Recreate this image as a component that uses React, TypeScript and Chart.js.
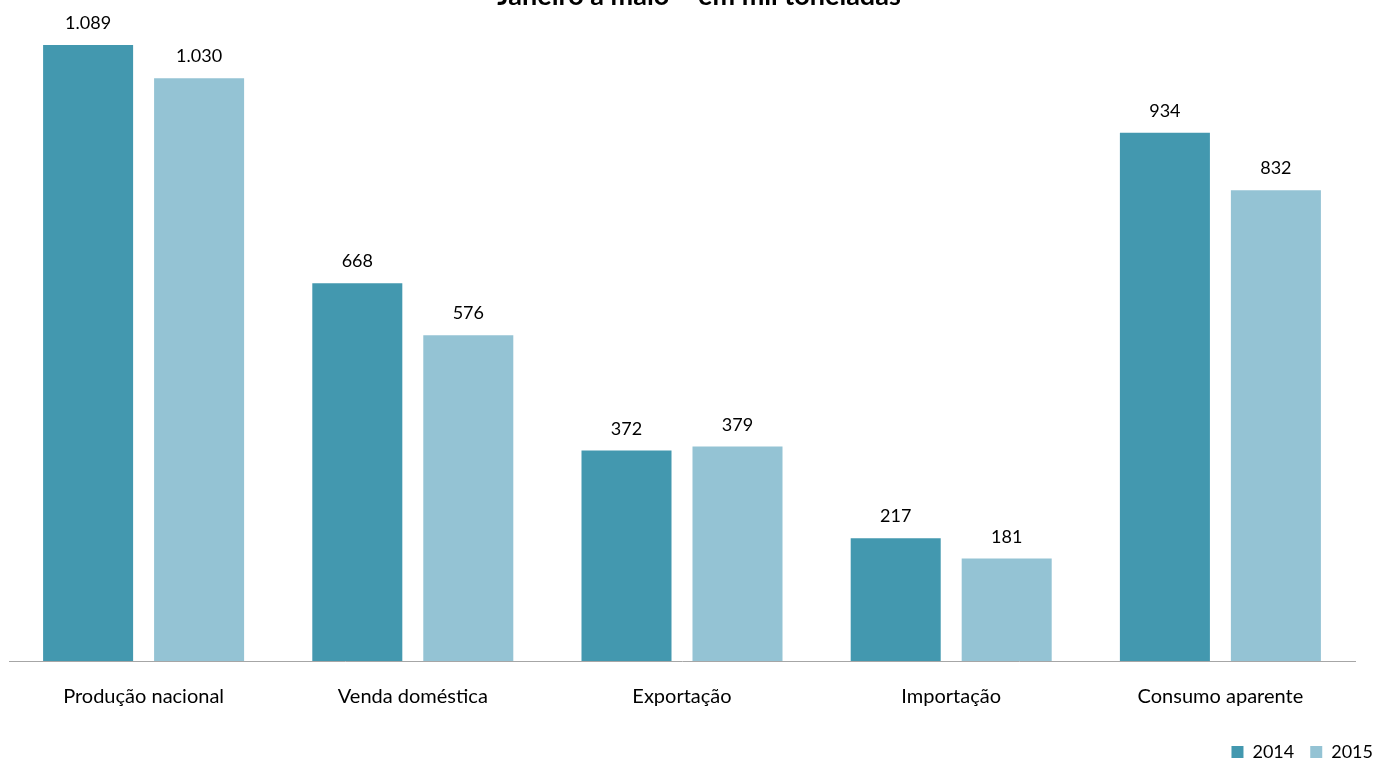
import React, { useEffect, useRef } from 'react';
import { Chart, registerables } from 'chart.js';

Chart.register(...registerables);

const titleText = 'Janeiro a maio – em mil toneladas';
const categories = ['Produção nacional', 'Venda doméstica', 'Exportação', 'Importação', 'Consumo aparente'];
const seriesNames = ['2014', '2015'];
const values2014 = [1089, 668, 372, 217, 934];
const values2015 = [1030, 576, 379, 181, 832];
const seriesColors = ['#4398AF', '#94C3D4'];

const FONT = 'Lato';

const fmt = (v: number) => String(v).replace(/\B(?=(\d{3})+(?!\d))/g, '.');

const valueLabels = {
  id: 'valueLabels',
  afterDatasetsDraw(chart: any) {
    const ctx = chart.ctx;
    ctx.save();
    ctx.font = `18px ${FONT}`;
    ctx.fillStyle = '#000000';
    ctx.textAlign = 'center';
    ctx.textBaseline = 'alphabetic';
    chart.data.datasets.forEach((ds: any, i: number) => {
      const meta = chart.getDatasetMeta(i);
      meta.data.forEach((el: any, j: number) => {
        ctx.fillText(fmt(ds.data[j]), el.x, el.y - 16);
      });
    });
    ctx.restore();
  },
};

export default function App() {
  const ref = useRef<HTMLCanvasElement>(null);
  useEffect(() => {
    document.body.style.margin = '0';
    const chart = new Chart(ref.current as HTMLCanvasElement, {
      type: 'bar',
      data: {
        labels: categories,
        datasets: [
          { label: seriesNames[0], data: values2014, backgroundColor: seriesColors[0], borderWidth: 0, yAxisID: 'y' },
          { label: seriesNames[1], data: values2015, backgroundColor: seriesColors[1], borderWidth: 0, yAxisID: 'y' },
        ],
      },
      options: {
        responsive: false,
        animation: false,
        devicePixelRatio: 1,
        layout: { padding: { left: 9, right: 0, top: 0, bottom: 0 } },
        datasets: { bar: { categoryPercentage: 0.8246, barPercentage: 0.811 } },
        plugins: {
          title: {
            display: true,
            text: titleText,
            color: '#000000',
            font: { family: FONT, size: 27, weight: 'bold' },
            padding: { top: 0, bottom: 0 },
          },
          legend: {
            position: 'bottom',
            align: 'end',
            labels: {
              boxWidth: 12,
              boxHeight: 12,
              padding: 16,
              color: '#000000',
              font: { family: FONT, size: 18 },
            },
          },
          tooltip: { enabled: false },
        },
        scales: {
          x: {
            grid: { display: false, drawTicks: false },
            border: { display: true, color: '#A6A6A6', width: 1 },
            ticks: { color: '#000000', font: { family: FONT, size: 20 }, padding: 24, maxRotation: 0 },
            afterFit(s: any) { s.height = 66; },
          },
          y: { display: false, min: 0, max: 1146.6 },
          y2: {
            position: 'right',
            display: true,
            grid: { display: false },
            border: { display: false },
            ticks: { display: false },
            afterFit(s: any) { s.width = 34; },
          },
        },
      },
      plugins: [valueLabels],
    } as any);
    return () => chart.destroy();
  }, []);
  return (
    <div style={{ width: 1373, height: 760, overflow: 'hidden', position: 'relative' }}>
      <canvas ref={ref} width={1389} height={791} style={{ display: 'block', marginTop: -20 }} />
    </div>
  );
}
